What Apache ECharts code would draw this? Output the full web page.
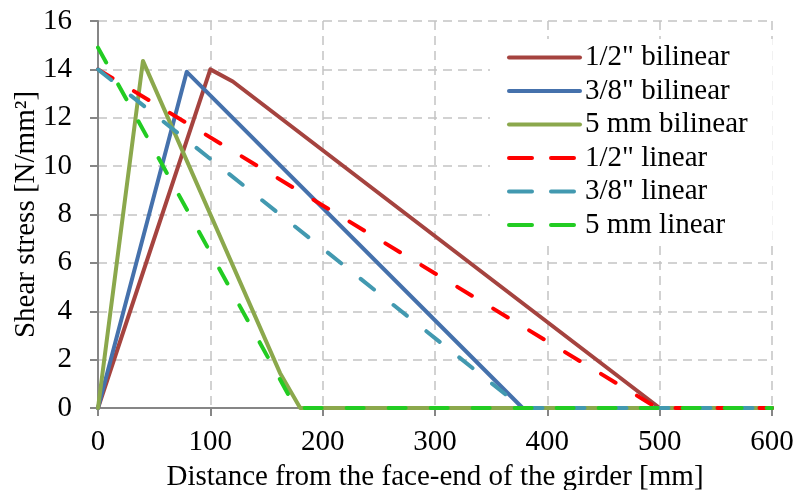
<!DOCTYPE html>
<html>
<head>
<meta charset="utf-8">
<script src="https://cdn.jsdelivr.net/npm/echarts@6/dist/echarts.min.js"></script>
<style>
  html, body { margin: 0; padding: 0; background: #fff; }
  #chart { width: 793px; height: 490px; }
</style>
</head>
<body>
<div id="chart"></div>
<script>
// series names
var names = ['1/2" bilinear', '3/8" bilinear', '5 mm bilinear', '1/2" linear', '3/8" linear', '5 mm linear'];

// [distance mm, shear stress N/mm2]
var half_bilinear = [[0, 0], [100, 14.0], [120, 13.5], [500, 0], [600, 0]];
var threeEighth_bilinear = [[0, 0], [79, 13.9], [378, 0], [600, 0]];
var fivemm_bilinear = [[0, 0], [40, 14.35], [162, 1.45], [180, 0], [600, 0]];
var half_linear = [[0, 14.0], [498, 0], [600, 0]];
var threeEighth_linear = [[0, 14.0], [378, 0], [600, 0]];
var fivemm_linear = [[0, 14.9], [176, 0], [600, 0]];

var colors = ['#A5433F', '#4571AC', '#8BA84C', '#FF0000', '#4299B0', '#22CC22'];

var xTicks = [0, 100, 200, 300, 400, 500, 600];
var yTicks = [0, 2, 4, 6, 8, 10, 12, 14, 16];

var fontName = '"Liberation Serif", "Times New Roman", serif';
var dashPat = [17, 25];

function mkLine(idx, data, dashed) {
    return {
        name: names[idx],
        type: 'line',
        data: data,
        symbol: 'none',
        clip: false,
        z: 2 + idx,
        lineStyle: {
            color: colors[idx],
            width: 4,
            type: dashed ? dashPat : 'solid',
            cap: 'round',
            join: 'round'
        },
        itemStyle: { color: colors[idx] }
    };
}

// legend entries, each with its own line look
var legendData = [];
for (var i = 0; i < names.length; i++) {
    legendData.push({
        name: names[i],
        itemStyle: { opacity: 0 },
        lineStyle: {
            color: colors[i],
            width: 4,
            type: i >= 3 ? [23, 19] : 'solid',
            cap: 'round'
        }
    });
}

var myChart = echarts.init(document.getElementById('chart'));
var gridLine = {
    show: true,
    lineStyle: { color: '#C4C4C4', width: 1.5, type: [9, 6] }
};
var option = {
    animation: false,
    backgroundColor: '#fff',
    textStyle: { fontFamily: fontName },
    grid: { left: 98, right: 21, top: 21, bottom: 82, containLabel: false, outerBoundsMode: 'none' },
    xAxis: {
        type: 'value',
        min: xTicks[0],
        max: xTicks[xTicks.length - 1],
        interval: 100,
        name: 'Distance from the face-end of the girder [mm]',
        nameLocation: 'middle',
        nameGap: 55,
        nameMoveOverlap: false,
        nameTextStyle: { fontFamily: fontName, fontSize: 29, color: '#000' },
        axisLine: { show: true, onZero: false, lineStyle: { color: '#868686', width: 2 } },
        axisTick: { show: true, length: 8, lineStyle: { color: '#868686', width: 2 } },
        axisLabel: { fontFamily: fontName, fontSize: 29, color: '#000', margin: 20 },
        splitLine: gridLine
    },
    yAxis: {
        type: 'value',
        min: yTicks[0],
        max: yTicks[yTicks.length - 1],
        interval: 2,
        name: 'Shear stress [N/mm²]',
        nameLocation: 'middle',
        nameGap: 57,
        nameMoveOverlap: false,
        nameTextStyle: { fontFamily: fontName, fontSize: 29, color: '#000' },
        axisLine: { show: true, lineStyle: { color: '#868686', width: 2 } },
        axisTick: { show: true, length: 8, lineStyle: { color: '#868686', width: 2 } },
        axisLabel: { fontFamily: fontName, fontSize: 29, color: '#000', margin: 26 },
        splitLine: gridLine
    },
    legend: {
        orient: 'vertical',
        left: 490,
        top: 39,
        padding: [4, 25, 4, 17],
        backgroundColor: '#fff',
        itemWidth: 71,
        itemHeight: 4,
        itemGap: 4.5,
        data: legendData,
        textStyle: { fontFamily: fontName, fontSize: 29, color: '#000', lineHeight: 28, padding: [0, 0, 0, 0] }
    },
    series: [
        mkLine(0, half_bilinear, false),
        mkLine(1, threeEighth_bilinear, false),
        mkLine(2, fivemm_bilinear, false),
        mkLine(3, half_linear, true),
        mkLine(4, threeEighth_linear, true),
        mkLine(5, fivemm_linear, true)
    ]
};
myChart.setOption(option);
</script>
</body>
</html>
